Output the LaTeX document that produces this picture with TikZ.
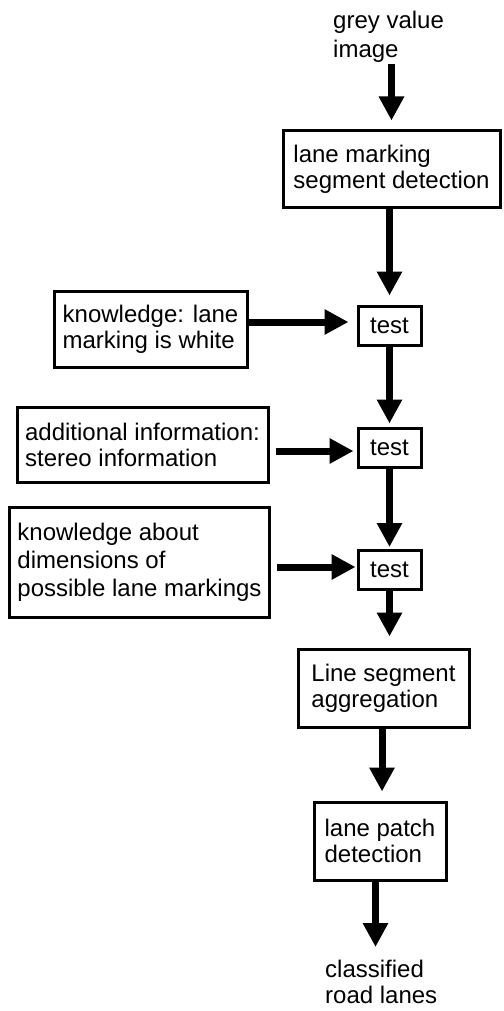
\documentclass[tikz,border=0pt]{standalone}
\usepackage{fontspec}
\setmainfont{Liberation Sans}
\usetikzlibrary{arrows.meta,calc}

\tikzset{
  box/.style={draw, line width=3pt, inner xsep=8pt, inner ysep=0pt,
    align=left, font=\fontsize{24}{26}\selectfont},
  testbox/.style={draw, line width=3pt, inner sep=0pt,
    minimum width=63pt, minimum height=39pt, font=\fontsize{24}{26}\selectfont},
  plain/.style={inner sep=0pt, align=left, anchor=north west},
  flow/.style={line width=7pt, -{Triangle[width=24pt,length=24pt]}}
}

\begin{document}
\begin{tikzpicture}[x=1pt,y=-1pt]
\useasboundingbox (0,0) rectangle (503,1011);

% input and output labels
\node[plain, font=\fontsize{24}{29}\selectfont] (input) at (333,11) {grey value\\image};
\node[plain, font=\fontsize{24}{26}\selectfont] (output) at (325,960) {classified\\road lanes};

% processing chain
\node[box, minimum width=217pt, minimum height=76pt] (detect) at (391.5,169) {lane marking\\segment detection};
\node[testbox] (test1) at (389.5,325.5) {test};
\node[testbox] (test2) at (389.5,447.5) {test};
\node[testbox] (test3) at (389.5,570) {test};
\node[box, minimum width=171pt, minimum height=78pt] (aggr) at (383.5,688) {Line segment\\aggregation};
\node[box, minimum width=132pt, minimum height=78pt] (patch) at (380,841) {lane patch\\detection};

% knowledge sources
\node[box, minimum width=193pt, minimum height=76pt] (white) at (150.5,329) {knowledge: lane\\marking is white};
\node[box, minimum width=251pt, minimum height=75pt] (stereo) at (142.5,444.5) {additional information:\\stereo information};
\node[box, minimum width=259pt, minimum height=110pt, font=\fontsize{24}{28}\selectfont] (dims) at (139.5,562) {knowledge about\\dimensions of\\possible lane markings};

\coordinate (outtip) at (375.5,947);

% vertical flow
\draw[flow, shorten >=9pt] ($(detect.north |- input.south)+(0,1)$) -- (detect.north);
\draw[flow, shorten >=9pt] (test1.north |- detect.south) -- (test1.north);
\draw[flow, shorten >=3pt] (test1.south) -- (test2.north);
\draw[flow, shorten >=2pt] (test2.south) -- (test3.north);
\draw[flow, shorten >=11pt] (test3.south) -- (test3.south |- aggr.north);
\draw[flow, shorten >=9pt] ([xshift=-1.5pt]aggr.south) -- ([xshift=-1.5pt]aggr.south |- patch.north);
\draw[flow] (outtip |- patch.south) -- (outtip);

% knowledge inputs
\draw[flow, shorten >=8pt] ([yshift=7pt]white.east) -- ([yshift=7pt]white.east -| test1.west);
\draw[flow, shorten <=6pt, shorten >=3pt] ([yshift=-6.5pt]stereo.east) -- ([yshift=-6.5pt]stereo.east -| test2.west);
\draw[flow, shorten <=6pt, shorten >=1pt] ([yshift=-5pt]dims.east) -- ([yshift=-5pt]dims.east -| test3.west);
\end{tikzpicture}
\end{document}
